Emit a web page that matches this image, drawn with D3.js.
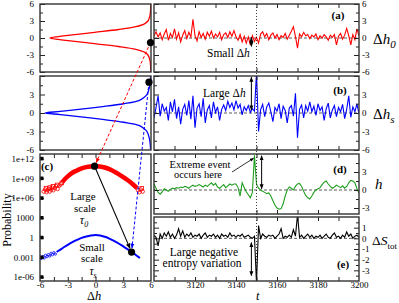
<!DOCTYPE html>
<html>
<head>
<meta charset="utf-8">
<script src="https://cdn.jsdelivr.net/npm/d3@7"></script>
<style>
  body { margin: 0; background: #fff; }
</style>
</head>
<body>
<svg width="399" height="303"></svg>
<script>
var serif = "'Liberation Serif', 'DejaVu Serif', serif";

// ---- time series (t = 3100 ... 3200, one value per step)
var times = d3.range(3100, 3201);
var dh0 = [0.4,1.1,0.2,0.9,-0.3,0.7,1.5,-0.4,0.8,0.1,
           1.6,-0.2,0.9,-0.7,0.5,1.3,-0.1,1.0,0.2,3.3,
           0.4,-0.5,1.1,0.1,0.8,-0.2,1.0,0.3,1.2,0.0,
           0.7,0.2,1.0,-0.3,0.6,0.9,0.1,1.1,0.3,1.3,
           0.2,-0.4,0.6,-0.7,0.3,-0.9,0.2,-1.2,0.4,-0.6,
           0.1,-0.9,0.7,1.1,0.2,0.8,-0.3,0.5,0.9,0.0,
           0.6,-0.3,0.4,0.1,0.8,-0.2,0.5,1.2,2.0,0.3,
           -1.8,0.7,0.2,1.0,0.4,0.6,-0.1,0.5,0.2,0.7,
           -0.3,0.4,0.0,0.6,0.2,-0.4,0.5,0.1,0.6,-1.2,
           0.3,0.8,-0.2,0.5,1.7,0.4,-1.2,0.6,-0.3,1.6,
           0.4];
var dhs = [-0.8,0.9,2.8,-0.5,1.5,0.3,0.9,-1.2,1.8,0.2,
           2.2,-0.9,1.0,-1.8,0.6,1.4,-0.4,2.0,-1.0,2.8,
           -2.4,0.8,1.5,-0.6,2.4,-1.6,0.5,1.2,-0.8,1.8,
           0.1,1.0,-1.2,0.6,1.3,0.4,1.9,0.9,1.6,0.5,
           2.0,0.8,1.4,-0.3,1.0,0.4,1.2,0.1,0.7,0.3,
           6.5,-3.0,0.5,1.4,-0.6,1.0,1.6,0.2,-1.4,0.9,
           0.3,1.5,-0.9,1.1,0.4,-1.6,0.8,1.2,-0.5,3.2,
           -4.0,0.6,1.3,-0.8,1.2,0.3,1.8,0.2,1.1,-0.4,
           1.5,0.4,1.0,-1.2,0.7,1.6,-0.8,0.5,1.2,-0.6,
           0.9,0.2,1.4,-0.9,0.6,2.8,-0.7,1.0,0.2,1.5,
           -0.2];
var hVals = [1.0,0.3,-0.4,-0.7,-0.3,0.2,0.0,-0.2,0.1,0.3,
             0.2,0.4,0.3,0.5,0.4,0.6,0.5,0.3,0.6,0.8,
             0.6,0.7,0.9,0.7,0.5,0.8,0.6,0.9,1.2,0.8,
             1.1,0.5,0.3,0.6,0.9,0.4,0.7,1.0,0.8,1.0,
             1.0,0.4,-1.0,1.2,0.4,-0.3,-0.8,-1.3,-0.4,5.8,
             1.0,0.3,0.0,-0.2,-0.4,-0.6,-0.5,-1.0,-1.8,-2.5,
             -3.0,-3.2,-3.1,-2.3,-1.0,0.0,0.5,0.3,0.0,0.6,
             1.0,1.1,0.6,-0.2,-0.9,-1.3,-1.5,-1.0,-0.4,0.0,
             0.2,0.4,0.9,1.3,1.5,1.0,0.6,0.3,0.5,0.8,
             0.6,0.4,0.7,0.3,0.6,1.2,1.6,1.5,1.2,0.2,
             -0.5];
var dS = [0.3,0.1,-0.7,0.4,0.0,0.5,0.2,0.6,0.1,0.4,
          0.0,0.3,0.9,0.2,0.7,0.1,0.4,0.2,0.5,0.1,
          0.3,0.2,0.4,0.0,0.3,0.5,0.1,0.3,0.2,0.4,
          0.1,0.3,0.0,0.4,0.2,0.3,0.1,0.5,0.2,0.3,
          0.1,0.3,0.2,0.4,0.1,0.2,0.3,0.1,0.0,0.2,
          -4.2,1.2,0.0,0.4,0.2,0.1,0.3,0.2,0.3,0.0,
          0.2,0.4,0.9,0.0,0.2,0.1,0.3,0.1,0.8,0.2,
          2.2,0.1,0.3,0.0,0.2,0.4,0.1,0.3,0.0,0.2,
          0.1,0.3,0.0,0.2,0.4,0.1,0.0,0.3,0.5,0.1,
          0.2,0.0,0.3,0.1,0.6,0.2,0.4,0.0,0.2,0.3,
          0.1];
var eventTime = 3150;

// ---- PDFs shown sideways in the two top-left panels
var pdfDh = [-6,-5,-4,-3,-2.5,-2,-1.5,-1,-0.5,-0.25,0,0.25,0.5,1,1.5,2,2.5,3,4,5,6];
var pdf0  = [0.002,0.004,0.01,0.03,0.065,0.15,0.32,0.56,0.8,0.92,1.0,0.92,0.8,0.56,0.32,0.15,0.065,0.03,0.01,0.004,0.002];
var pdfS  = [0.004,0.008,0.018,0.04,0.07,0.12,0.27,0.5,0.76,0.9,1.05,0.9,0.76,0.5,0.27,0.12,0.07,0.04,0.018,0.008,0.004];

// ---- panel (c): log10 of probability (curves shifted for clarity)
var redDh   = [-3.6,-3.3,-3,-2.5,-2,-1.5,-1,-0.5,0,0.5,1,1.5,2,2.5,3,3.5,4,4.5];
var redLog  = [8.4,8.9,9.3,9.85,10.2,10.5,10.7,10.8,10.85,10.8,10.65,10.4,10.05,9.65,9.2,8.7,8.15,7.5];
var redTailDh  = [-5.6,-5.45,-5.3,-5.2,-5.05,-4.95,-4.8,-4.7,-4.55,-4.4,-4.25,-4.1,-3.9,-3.75,4.6,4.75,4.9,5.1];
var redTailLog = [7.0,7.3,6.9,7.2,7.4,7.0,7.3,7.6,7.2,7.5,7.8,7.4,7.9,8.1,7.2,6.9,7.3,7.0];
var blueDh  = [-4.2,-4,-3.5,-3,-2.5,-2,-1.5,-1,-0.5,0,0.5,1,1.5,2,2.5,3,3.5,4,4.5,4.8];
var blueLog = [-2.2,-2.0,-1.55,-1.1,-0.7,-0.35,-0.05,0.15,0.3,0.38,0.32,0.12,-0.15,-0.5,-0.9,-1.35,-1.8,-2.25,-2.8,-3.1];
var blueTailDh  = [-5.9,-5.7,-5.55,-5.4,-5.25,-5.1,-4.95,-4.8,-4.65,-4.5,-4.35];
var blueTailLog = [-3.2,-2.9,-3.1,-2.7,-2.9,-2.6,-2.8,-2.4,-2.6,-2.3,-2.5];
var probTicks  = [1e12, 1e9, 1e6, 1e3, 1, 1e-3, 1e-6];
var probLabels = ["1e+12","1e+09","1e+06","1000","1","0.001","1e-06"];

var svg = d3.select("svg");
var defs = svg.append("defs");

function arrowHead(id, color) {
  defs.append("marker").attr("id", id)
    .attr("viewBox", "0 0 10 10").attr("refX", 9).attr("refY", 5)
    .attr("markerWidth", 5).attr("markerHeight", 5).attr("orient", "auto-start-reverse")
    .append("path").attr("d", "M0,1L10,5L0,9Z").attr("fill", color);
}
arrowHead("ak", "#000");
arrowHead("ar", "#f00");
arrowHead("ab", "#00f");

// layout
var LX = [40, 151], RX = [154, 359];
var t = d3.scaleLinear().domain([3100, 3200]).range(RX);
var yA = d3.scaleLinear().domain([-6, 6]).range([72, 4]);
var yB = d3.scaleLinear().domain([-6, 6]).range([150, 76]);
var yD = d3.scaleLinear().domain([-4, 6]).range([214, 154]);
var yE = d3.scaleLinear().domain([-4, 2]).range([281, 217]);
var pX = d3.scaleLinear().domain([1.1, 0]).range(LX);
var cX = d3.scaleLinear().domain([-6, 6]).range(LX);
var cY = d3.scaleLog().domain([Math.pow(10, -6.6), Math.pow(10, 12.7)]).range([281, 154]);

function clipBox(id, x0, x1, y0, y1) {
  defs.append("clipPath").attr("id", id).append("rect")
    .attr("x", x0).attr("y", y0).attr("width", x1 - x0).attr("height", y1 - y0);
}

function place(axis, tx, ty, size) {
  var g = svg.append("g").attr("transform", "translate(" + tx + "," + ty + ")").call(axis);
  g.select(".domain").remove();
  g.attr("font-family", serif).attr("font-size", size || 9);
  g.selectAll("line").attr("stroke", "#222");
  return g;
}

function frame(x0, x1, y0, y1) {
  svg.append("rect").attr("x", x0).attr("y", y0).attr("width", x1 - x0).attr("height", y1 - y0)
    .attr("fill", "none").attr("stroke", "#333").attr("stroke-width", 1.4);
}

var plain = function(d) { return d; };

// right-hand time panels
function timePanel(id, y, vals, color, major, minor, labelled, bottomLabels) {
  var r = y.range();
  clipBox(id, RX[0], RX[1], r[1], r[0]);
  svg.append("line").attr("x1", RX[0]).attr("x2", RX[1]).attr("y1", y(0)).attr("y2", y(0))
    .attr("stroke", "#333").attr("stroke-width", 0.8).attr("stroke-dasharray", "3,2");
  svg.append("path").datum(times).attr("clip-path", "url(#" + id + ")")
    .attr("fill", "none").attr("stroke", color).attr("stroke-width", 1.1)
    .attr("d", d3.line().x(function(d) { return t(d); }).y(function(d, i) { return y(vals[i]); }));
  // y ticks: left (inward) and right (inward, labels outside)
  place(d3.axisRight(y).tickValues(minor).tickSize(3).tickFormat(""), RX[0], 0);
  place(d3.axisRight(y).tickValues(major).tickSize(5).tickFormat(""), RX[0], 0);
  place(d3.axisLeft(y).tickValues(minor).tickSize(3).tickFormat(""), RX[1], 0);
  place(d3.axisLeft(y).tickValues(major).tickSize(5).tickFormat(""), RX[1], 0);
  place(d3.axisRight(y).tickValues(labelled).tickSize(0).tickPadding(3).tickFormat(plain), RX[1], 0);
  // time ticks top and bottom
  var tt = d3.range(3110, 3200, 10);
  place(d3.axisBottom(t).tickValues(tt).tickSize(4).tickFormat(""), 0, r[1]);
  place(d3.axisTop(t).tickValues(tt).tickSize(4).tickFormat(""), 0, r[0]);
  if (bottomLabels) {
    place(d3.axisBottom(t).tickValues([3120, 3140, 3160, 3180, 3200]).tickSize(0).tickPadding(1)
      .tickFormat(plain), 0, r[0]);
  }
  frame(RX[0], RX[1], r[1], r[0]);
}

var six = [-6, -3, 0, 3, 6], sixMinor = [-4.5, -1.5, 1.5, 4.5];
timePanel("ca", yA, dh0, "#f00", six, sixMinor, six, false);
timePanel("cb", yB, dhs, "#00f", six, sixMinor, [-6, -3, 0, 3], false);
timePanel("cd", yD, hVals, "#1f9e1f", [-3, 0, 3], [-1.5, 1.5, 4.5], [-3, 0, 3], false);
timePanel("ce", yE, dS, "#000", [-3, -2, -1, 0, 1], [-3.5, -2.5, -1.5, -0.5, 0.5, 1.5], [-3, -2, -1, 0, 1], true);

// dotted line at the extreme event
svg.append("line").attr("x1", t(eventTime)).attr("x2", t(eventTime)).attr("y1", 4).attr("y2", 281)
  .attr("stroke", "#222").attr("stroke-width", 0.9).attr("stroke-dasharray", "1,2");

// left PDF panels
function pdfPanel(id, y, vals, color, labelled) {
  var r = y.range();
  clipBox(id, LX[0], LX[1], r[1], r[0]);
  svg.append("path").datum(pdfDh).attr("clip-path", "url(#" + id + ")")
    .attr("fill", "none").attr("stroke", color).attr("stroke-width", 1.3)
    .attr("d", d3.line().curve(d3.curveCatmullRom)
      .x(function(d, i) { return pX(vals[i]); }).y(function(d) { return y(d); }));
  place(d3.axisRight(y).tickValues(sixMinor).tickSize(3).tickFormat(""), LX[0], 0);
  place(d3.axisRight(y).tickValues(six).tickSize(5).tickFormat(""), LX[0], 0);
  place(d3.axisLeft(y).tickValues(labelled).tickSize(0).tickPadding(6).tickFormat(plain), LX[0], 0);
  frame(LX[0], LX[1], r[1], r[0]);
}
pdfPanel("pa", yA, pdf0, "#f00", six);
pdfPanel("pb", yB, pdfS, "#00f", [-6, -3, 0, 3]);

// panel (c)
clipBox("cc", LX[0], LX[1], 154, 281);
var gc = svg.append("g").attr("clip-path", "url(#cc)");
var cLine = function(xs, ls) {
  return d3.line().x(function(d) { return cX(d); })
    .y(function(d, i) { return cY(Math.pow(10, ls[i])); });
};
gc.append("path").datum(redDh).attr("fill", "none").attr("stroke", "#f00").attr("stroke-width", 4.5)
  .attr("d", cLine(redDh, redLog).curve(d3.curveCatmullRom));
gc.selectAll(".rt").data(redTailDh).enter().append("circle")
  .attr("cx", function(d) { return cX(d); })
  .attr("cy", function(d, i) { return cY(Math.pow(10, redTailLog[i])); })
  .attr("r", 1.8).attr("fill", "none").attr("stroke", "#f00").attr("stroke-width", 0.8);
gc.selectAll(".rs").data(redTailDh.filter(function(d, i) { return i % 3 === 1; })).enter().append("rect")
  .attr("x", function(d) { return cX(d + 0.1) - 1.8; })
  .attr("y", function(d) { return cY(Math.pow(10, redTailLog[redTailDh.indexOf(d)] + 0.2)) - 1.8; })
  .attr("width", 3.6).attr("height", 3.6).attr("fill", "none").attr("stroke", "#f00").attr("stroke-width", 0.8);
gc.append("path").datum(blueDh).attr("fill", "none").attr("stroke", "#00f").attr("stroke-width", 2)
  .attr("d", cLine(blueDh, blueLog).curve(d3.curveCatmullRom));
gc.selectAll(".bt").data(blueTailDh).enter().append("circle")
  .attr("cx", function(d) { return cX(d); })
  .attr("cy", function(d, i) { return cY(Math.pow(10, blueTailLog[i])); })
  .attr("r", 1.2).attr("fill", "none").attr("stroke", "#00f").attr("stroke-width", 0.8);

var cTicks = [-4.5, -3, -1.5, 0, 1.5, 3, 4.5];
place(d3.axisBottom(cX).tickValues(cTicks).tickSize(4).tickFormat(""), 0, 154);
place(d3.axisTop(cX).tickValues(cTicks).tickSize(4).tickFormat(""), 0, 281);
place(d3.axisBottom(cX).tickValues([-6, -3, 0, 3, 6]).tickSize(0).tickPadding(1).tickFormat(plain), 0, 281);
place(d3.axisLeft(cY).tickValues(probTicks).tickSizeInner(-4).tickSizeOuter(0).tickPadding(6)
  .tickFormat(function(d, i) { return probLabels[i]; }), LX[0], 0, 9);
svg.selectAll(".sq").data(probTicks).enter().append("rect")
  .attr("x", LX[0]).attr("y", function(d) { return cY(d) - 1.8; })
  .attr("width", 3.5).attr("height", 3.6).attr("fill", "#000");
frame(LX[0], LX[1], 154, 281);

// markers, arrows connecting panels
var redPeak = [cX(-0.1), cY(Math.pow(10, 10.85))];
var bluePt = [cX(3.9), cY(Math.pow(10, -2.2))];
var dotA = [pX(0.005), yA(-0.8)];
var dotB = [pX(0.02), yB(5.0)];
function seg(a, b, color, dash, mk, w) {
  var l = svg.append("line").attr("x1", a[0]).attr("y1", a[1]).attr("x2", b[0]).attr("y2", b[1])
    .attr("stroke", color).attr("stroke-width", w || 1);
  if (dash) l.attr("stroke-dasharray", dash);
  if (mk) l.attr("marker-end", "url(#" + mk + ")");
  return l;
}
function toward(a, b, back) {
  var dx = b[0] - a[0], dy = b[1] - a[1], L = Math.sqrt(dx * dx + dy * dy);
  return [b[0] - dx / L * back, b[1] - dy / L * back];
}
seg(dotA, toward(dotA, redPeak, 4), "#f00", "3,2", "ar");
seg(dotB, toward(dotB, bluePt, 4), "#00f", "3,2", "ab");
seg(redPeak, toward(redPeak, bluePt, 4), "#000", null, "ak", 1.1);
[redPeak, bluePt, dotA, dotB].forEach(function(p) {
  svg.append("circle").attr("cx", p[0]).attr("cy", p[1]).attr("r", 3.6).attr("fill", "#000");
});

// double arrows in time panels
function dbl(x, y1, y2) {
  svg.append("line").attr("x1", x).attr("x2", x).attr("y1", y1).attr("y2", y2)
    .attr("stroke", "#000").attr("stroke-width", 1)
    .attr("marker-start", "url(#ak)").attr("marker-end", "url(#ak)");
}
dbl(t(3147.5), yA(0.1), yA(-1.5));
dbl(t(3147.5), yB(5.8), yB(0.5));
dbl(t(3152.5), yD(5.7), yD(0.2));
dbl(t(3147.5), yE(-0.4), yE(-3.5));
svg.append("line").attr("x1", 232).attr("y1", 172).attr("x2", t(3148.6)).attr("y2", yD(5.3))
  .attr("stroke", "#000").attr("stroke-width", 0.8).attr("marker-end", "url(#ak)");

// texts
function txt(x, y, s, size, anchor, extra) {
  var e = svg.append("text").attr("x", x).attr("y", y).attr("font-family", serif)
    .attr("font-size", size).attr("text-anchor", anchor || "start").text(s);
  if (extra) extra(e);
  return e;
}
function bold(e) { e.attr("font-weight", "bold"); }
txt(338, 19, "(a)", 11, "middle", bold);
txt(340, 94, "(b)", 11, "middle", bold);
txt(47, 170, "(c)", 11, "middle", bold);
txt(340, 173, "(d)", 11, "middle", bold);
txt(343, 268, "(e)", 11, "middle", bold);

function sym(x, y, parts, size, subSize) {
  var e = svg.append("text").attr("x", x).attr("y", y).attr("font-family", serif).attr("font-size", size || 15);
  parts.forEach(function(p) {
    var s = e.append("tspan").text(p[0]);
    if (p[1]) s.attr("font-style", "italic");
    if (p[2]) s.attr("font-size", subSize || 11).attr("dy", 4);
  });
  return e;
}
sym(373, 44, [["Δ"], ["h", 1], ["0", 1, 1]]);
sym(373, 119, [["Δ"], ["h", 1], ["s", 1, 1]]);
sym(375, 189, [["h", 1]]);
sym(372, 245, [["Δ"], ["S", 1], ["tot", 0, 1]], 13.5, 9);
sym(87, 300, [["Δ"], ["h", 1]], 12.5);
sym(256, 300, [["t", 1]], 12.5);

var small = svg.append("text").attr("x", 207).attr("y", 57).attr("font-family", serif).attr("font-size", 11.5);
small.append("tspan").text("Small Δ");
small.append("tspan").text("h").attr("font-style", "italic");
var large = svg.append("text").attr("x", 203).attr("y", 97).attr("font-family", serif).attr("font-size", 11.5);
large.append("tspan").text("Large Δ");
large.append("tspan").text("h").attr("font-style", "italic");
txt(200, 168, "Extreme event", 10.5, "middle");
txt(198, 178, "occurs here", 10.5, "middle");
txt(204, 256, "Large negative", 11.5, "middle");
txt(202, 267, "entropy variation", 11.5, "middle");

txt(83, 200, "Large", 11, "middle");
txt(85, 212, "scale", 11, "middle");
var t0 = txt(84, 224, "τ", 12, "middle", function(e) { e.attr("font-style", "italic"); });
t0.append("tspan").text("0").attr("font-size", 8).attr("dy", 3);
txt(92, 251, "Small", 11, "middle");
txt(92, 262, "scale", 11, "middle");
var ts = txt(93, 275, "τ", 11.5, "middle", function(e) { e.attr("font-style", "italic"); });
ts.append("tspan").text("s").attr("font-size", 8).attr("dy", 3);

txt(0, 0, "Probability", 12, "middle", function(e) {
  e.attr("transform", "translate(11,220) rotate(-90)");
});
</script>
</body>
</html>
